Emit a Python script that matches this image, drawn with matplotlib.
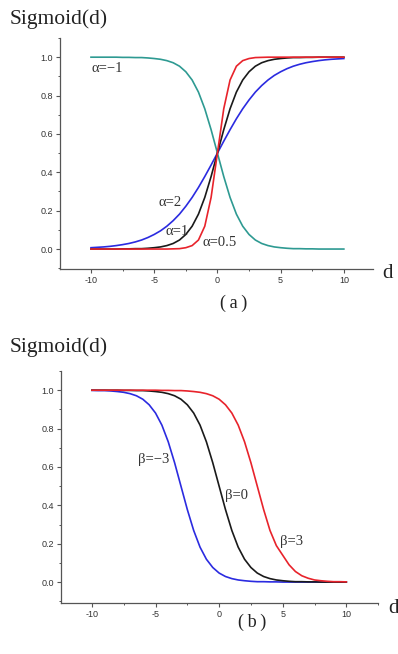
import matplotlib
matplotlib.use("Agg")
import matplotlib.pyplot as plt
from matplotlib.ticker import MultipleLocator

# ---- data (a): d sampled every 0.5 ----
d_a = [-10, -9.5, -9, -8.5, -8, -7.5, -7, -6.5, -6, -5.5, -5, -4.5, -4, -3.5, -3, -2.5, -2, -1.5, -1, -0.5,
       0, 0.5, 1, 1.5, 2, 2.5, 3, 3.5, 4, 4.5, 5, 5.5, 6, 6.5, 7, 7.5, 8, 8.5, 9, 9.5, 10]
alpha_m1 = [1.0, 1.0, 1.0, 1.0, 1.0, 0.999, 0.999, 0.998, 0.998, 0.996, 0.993, 0.989, 0.982, 0.971, 0.953,
            0.924, 0.881, 0.818, 0.731, 0.622, 0.5, 0.378, 0.269, 0.182, 0.119, 0.076, 0.047, 0.029, 0.018,
            0.011, 0.007, 0.004, 0.002, 0.002, 0.001, 0.001, 0.0, 0.0, 0.0, 0.0, 0.0]
alpha_1 = [0.0, 0.0, 0.0, 0.0, 0.0, 0.001, 0.001, 0.002, 0.002, 0.004, 0.007, 0.011, 0.018, 0.029, 0.047,
           0.076, 0.119, 0.182, 0.269, 0.378, 0.5, 0.622, 0.731, 0.818, 0.881, 0.924, 0.953, 0.971, 0.982,
           0.989, 0.993, 0.996, 0.998, 0.998, 0.999, 0.999, 1.0, 1.0, 1.0, 1.0, 1.0]
alpha_2 = [0.007, 0.009, 0.011, 0.014, 0.018, 0.023, 0.029, 0.037, 0.047, 0.060, 0.076, 0.095, 0.119, 0.148,
           0.182, 0.223, 0.269, 0.321, 0.378, 0.438, 0.5, 0.562, 0.622, 0.679, 0.731, 0.777, 0.818, 0.852,
           0.881, 0.905, 0.924, 0.940, 0.953, 0.963, 0.971, 0.977, 0.982, 0.986, 0.989, 0.991, 0.993]
alpha_05 = [0.0, 0.0, 0.0, 0.0, 0.0, 0.0, 0.0, 0.0, 0.0, 0.0, 0.0, 0.0, 0.0, 0.001, 0.002, 0.007, 0.018,
            0.047, 0.119, 0.269, 0.5, 0.731, 0.881, 0.953, 0.982, 0.993, 0.998, 0.999, 1.0, 1.0, 1.0, 1.0,
            1.0, 1.0, 1.0, 1.0, 1.0, 1.0, 1.0, 1.0, 1.0]

# ---- data (b): d sampled every 0.5 ----
d_b = [-10, -9.5, -9, -8.5, -8, -7.5, -7, -6.5, -6, -5.5, -5, -4.5, -4, -3.5, -3, -2.5, -2, -1.5, -1, -0.5,
       0, 0.5, 1, 1.5, 2, 2.5, 3, 3.5, 4, 4.5, 5, 5.5, 6, 6.5, 7, 7.5, 8, 8.5, 9, 9.5, 10]
beta_m3 = [0.999, 0.998, 0.998, 0.996, 0.993, 0.989, 0.982, 0.971, 0.953, 0.924, 0.881, 0.818, 0.731, 0.622,
           0.5, 0.378, 0.269, 0.182, 0.119, 0.076, 0.047, 0.029, 0.018, 0.011, 0.007, 0.004, 0.002, 0.002,
           0.001, 0.001, 0.0, 0.0, 0.0, 0.0, 0.0, 0.0, 0.0, 0.0, 0.0, 0.0, 0.0]
beta_0 = [1.0, 1.0, 1.0, 1.0, 1.0, 0.999, 0.999, 0.998, 0.998, 0.996, 0.993, 0.989, 0.982, 0.971, 0.953,
          0.924, 0.881, 0.818, 0.731, 0.622, 0.5, 0.378, 0.269, 0.182, 0.119, 0.076, 0.047, 0.029, 0.018,
          0.011, 0.007, 0.004, 0.002, 0.002, 0.001, 0.001, 0.0, 0.0, 0.0, 0.0, 0.0]
beta_3 = [1.0, 1.0, 1.0, 1.0, 1.0, 1.0, 1.0, 1.0, 1.0, 1.0, 1.0, 0.999, 0.999, 0.998, 0.998, 0.996, 0.993,
          0.989, 0.982, 0.971, 0.953, 0.924, 0.881, 0.818, 0.731, 0.622, 0.5, 0.378, 0.269, 0.19, 0.14,
          0.09, 0.055, 0.033, 0.02, 0.011, 0.007, 0.004, 0.002, 0.002, 0.001]

ticks_x = [-10, -5, 0, 5, 10]
ticks_y = [0.0, 0.2, 0.4, 0.6, 0.8, 1.0]

TEAL = "#2e9a92"
BLUE = "#2b2be0"
BLACK = "#1a1a1a"
RED = "#e8232b"
AX = "#555555"
serif = ["Liberation Serif", "DejaVu Serif"]
sans = ["Liberation Sans", "DejaVu Sans"]

fig = plt.figure(figsize=(3.98, 6.54), dpi=100)
ax1 = fig.add_axes([0.1508, 0.5887, 0.937 - 0.1508, 0.9419 - 0.5887])
ax2 = fig.add_axes([0.153, 0.078, 0.950 - 0.153, 0.4327 - 0.078])


def style(ax, xlim, ylim):
    ax.set_xlim(*xlim)
    ax.set_ylim(*ylim)
    for s in ("top", "right"):
        ax.spines[s].set_visible(False)
    for s in ("left", "bottom"):
        ax.spines[s].set_color(AX)
        ax.spines[s].set_linewidth(0.9)
    ax.set_xticks(ticks_x)
    ax.set_yticks(ticks_y)
    ax.set_xticklabels([f"{t:g}" for t in ticks_x])
    ax.set_yticklabels([f"{t:.1f}" for t in ticks_y])
    ax.xaxis.set_minor_locator(MultipleLocator(2.5))
    ax.yaxis.set_minor_locator(MultipleLocator(0.1))
    ax.tick_params(which="major", direction="out", length=3, width=0.8, color=AX,
                   labelsize=6.5, labelcolor="#333333", pad=2)
    ax.tick_params(which="minor", direction="out", length=1.5, width=0.7, color=AX)
    for lab in ax.get_xticklabels() + ax.get_yticklabels():
        lab.set_family(sans)


lw = 1.2
ax1.plot(d_a, alpha_m1, color=TEAL, lw=lw)
ax1.plot(d_a, alpha_2, color=BLUE, lw=lw)
ax1.plot(d_a, alpha_1, color=BLACK, lw=lw)
ax1.plot(d_a, alpha_05, color=RED, lw=lw)
style(ax1, (-12.45, 12.3), (-0.104, 1.1))
tk = dict(family=serif, fontsize=10.5, color="#333333", ha="center", va="center")
ax1.text(-8.75, 0.94, "α=−1", **tk)
ax1.text(-3.75, 0.245, "α=2", **tk)
ax1.text(-3.2, 0.09, "α=1", **tk)
ax1.text(0.2, 0.036, "α=0.5", **tk)

ax2.plot(d_b, beta_m3, color=BLUE, lw=lw)
ax2.plot(d_b, beta_0, color=BLACK, lw=lw)
ax2.plot(d_b, beta_3, color=RED, lw=lw)
style(ax2, (-12.44, 12.5), (-0.109, 1.1))
ax2.text(-5.15, 0.64, "β=−3", **tk)
ax2.text(1.38, 0.45, "β=0", **tk)
ax2.text(5.7, 0.21, "β=3", **tk)

lab = dict(family=serif, color="#222222")
fig.text(10 / 398, 1 - 24 / 654, "Sigmoid(d)", fontsize=15.5, ha="left", va="baseline", **lab)
fig.text(10 / 398, 1 - 352 / 654, "Sigmoid(d)", fontsize=15.5, ha="left", va="baseline", **lab)
fig.text(382 / 398, 1 - 278 / 654, "d", fontsize=15, ha="left", va="baseline", **lab)
fig.text(388 / 398, 1 - 613 / 654, "d", fontsize=15, ha="left", va="baseline", **lab)
fig.text(234 / 398, 1 - 308 / 654, "(\u2009a\u2009)", fontsize=13, ha="center", va="baseline", **lab)
fig.text(252 / 398, 1 - 627 / 654, "(\u2009b\u2009)", fontsize=13, ha="center", va="baseline", **lab)

fig.savefig("out.png", dpi=100)
